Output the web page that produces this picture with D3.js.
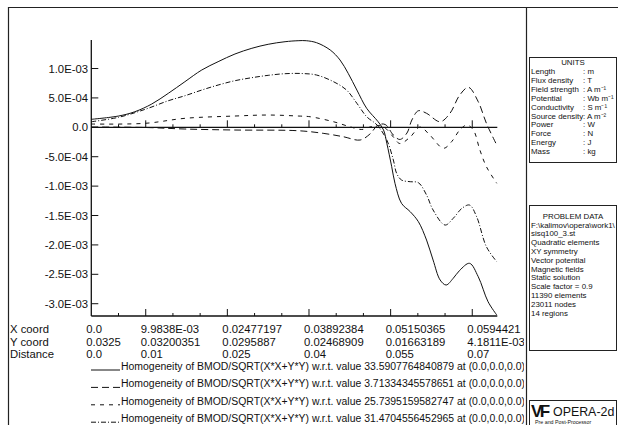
<!DOCTYPE html>
<html>
<head>
<meta charset="utf-8">
<script src="https://cdn.jsdelivr.net/npm/d3@7"></script>
<style>
  body { margin: 0; background: #fff; }
  svg text { font-family: "Liberation Sans", Arial, sans-serif; fill: #111; }
</style>
</head>
<body>
<div id="chart"></div>
<script>
// distance along the line (m) and homogeneity values
var distSolid = [0, 0.005, 0.008, 0.0111, 0.01415, 0.0172, 0.0203, 0.0233, 0.0264, 0.0295, 0.0325, 0.0356, 0.038, 0.0395, 0.0414, 0.0439, 0.0457, 0.0472, 0.0488, 0.0506, 0.0527, 0.0537, 0.0543, 0.0552, 0.0558, 0.057, 0.0586, 0.0601, 0.0616, 0.0628, 0.0641, 0.0652, 0.0665, 0.0677, 0.0695, 0.0711, 0.0729, 0.0745];
var valSolid = [1.36e-4, 1.92e-4, 2.65e-4, 3.96e-4, 5.78e-4, 7.76e-4, 9.75e-4, 1.116e-3, 1.247e-3, 1.344e-3, 1.412e-3, 1.456e-3, 1.473e-3, 1.473e-3, 1.439e-3, 1.315e-3, 1.145e-3, 9.18e-4, 6.34e-4, 3.23e-4, 9.5e-5, -4.6e-5, -2.72e-4, -6.7e-4, -9.52e-4, -1.293e-3, -1.435e-3, -1.605e-3, -1.917e-3, -2.257e-3, -2.597e-3, -2.682e-3, -2.568e-3, -2.432e-3, -2.313e-3, -2.541e-3, -2.966e-3, -3.192e-3];

var distLong = [0, 0.0099, 0.0172, 0.0264, 0.038, 0.0426, 0.0463, 0.0494, 0.0512, 0.0527, 0.054, 0.0555, 0.0567, 0.058, 0.0589, 0.0601, 0.0616, 0.0641, 0.0659, 0.0677, 0.0693, 0.0711, 0.0726, 0.0745];
var valLong = [5e-6, -3e-6, -2.9e-5, -4.6e-5, -5.8e-5, -1.02e-4, -1.6e-4, -2.16e-4, -1.14e-4, 3.9e-5, 4.8e-5, -1.31e-4, -2.07e-4, -9.7e-5, 1.24e-4, 2.82e-4, 2.38e-4, 9.5e-5, 2.38e-4, 5.49e-4, 6.8e-4, 4.35e-4, 6.8e-5, -3.01e-4];

var distShort = [0, 0.0099, 0.0172, 0.0264, 0.0325, 0.038, 0.0402, 0.0445, 0.0475, 0.0497, 0.0512, 0.0527, 0.054, 0.0555, 0.0567, 0.0586, 0.0604, 0.0622, 0.0647, 0.0662, 0.0677, 0.069, 0.0702, 0.0714, 0.0726, 0.0745];
var valShort = [5.6e-5, 6.8e-5, 1.53e-4, 1.92e-4, 2.09e-4, 1.92e-4, 1.8e-4, 9.5e-5, 1e-5, -3.7e-5, 5e-6, 3.1e-5, -1.2e-5, -1.65e-4, -2.76e-4, -1.65e-4, 5e-6, -1.31e-4, -3.57e-4, -2.45e-4, -4.6e-5, 3.9e-5, -4.6e-5, -3.86e-4, -6.7e-4, -9.52e-4];

var distDot = [0, 0.005, 0.0099, 0.01415, 0.0172, 0.0203, 0.0233, 0.0264, 0.0295, 0.0325, 0.0356, 0.0387, 0.0414, 0.0445, 0.0469, 0.0488, 0.0506, 0.0525, 0.0543, 0.0555, 0.0561, 0.057, 0.0586, 0.0601, 0.0616, 0.0628, 0.065, 0.0665, 0.0681, 0.0695, 0.0708, 0.0726, 0.0745];
var valDot = [9.5e-5, 1.7e-4, 3.06e-4, 4.52e-4, 5.37e-4, 6.34e-4, 7.19e-4, 7.93e-4, 8.44e-4, 8.84e-4, 9.12e-4, 9.15e-4, 8.89e-4, 7.76e-4, 6.34e-4, 4.08e-4, 1.8e-4, 3.9e-5, -2.16e-4, -5.56e-4, -7.82e-4, -8.96e-4, -9.25e-4, -9.42e-4, -1.151e-3, -1.406e-3, -1.662e-3, -1.548e-3, -1.378e-3, -1.322e-3, -1.52e-3, -2.031e-3, -2.286e-3];

var refValues = ["33.5907764840879", "3.71334345578651", "25.7395159582747", "31.4704556452965"];

var yTicks = [1e-3, 5e-4, 0, -5e-4, -1e-3, -1.5e-3, -2e-3, -2.5e-3, -3e-3];
var yTickLabels = ["1.0E-03", "5.0E-04", "0.0", "-5.0E-04", "-1.0E-03", "-1.5E-03", "-2.0E-03", "-2.5E-03", "-3.0E-03"];

var labelDist = [0, 0.01, 0.025, 0.04, 0.055, 0.07];
var xCoordLabels = ["0.0", "9.9838E-03", "0.02477197", "0.03892384", "0.05150365", "0.0594421"];
var yCoordLabels = ["0.0325", "0.03200351", "0.0295887", "0.02468909", "0.01663189", "4.1811E-03"];
var distLabels = ["0.0", "0.01", "0.025", "0.04", "0.055", "0.07"];

var unitNames = ["Length", "Flux density", "Field strength", "Potential", "Conductivity", "Source density", "Power", "Force", "Energy", "Mass"];
var unitValues = [": m", ": T", ": A m\u207B\u00B9", ": Wb m\u207B\u00B9", ": S m\u207B\u00B9", ": A m\u207B\u00B2", ": W", ": N", ": J", ": kg"];
var problemLines = ["F:\\kalimov\\opera\\work1\\", "sisq100_3.st", "Quadratic elements", "XY symmetry", "Vector potential", "Magnetic fields", "Static solution", "Scale factor = 0.9", "11390 elements", "23011 nodes", "14 regions"];

var width = 618, height = 425,
  svg = d3.select("#chart").append("svg")
    .attr("width", width)
    .attr("height", height),
  xScale = d3.scaleLinear().domain([0, 0.0746]).range([91.3, 497.3]),
  yScale = d3.scaleLinear().domain([-3.209e-3, 1.485e-3]).range([316, 40]);

svg.append("defs").append("clipPath").attr("id", "leftpanel")
  .append("rect").attr("x", 0).attr("y", 0).attr("width", 524).attr("height", height);

// outer frame
svg.append("path")
  .attr("d", "M8.5," + height + "V7.5H" + width + "M526.5,7.5V" + height)
  .attr("fill", "none").attr("stroke", "#222").attr("stroke-width", 1.2);

// axes
var tickDist = d3.range(0, 0.0746, 0.005);
function isMajor(d) {
  return labelDist.some(function (l) { return Math.abs(l - d) < 1e-6 && l > 0; });
}
[yScale(0), 316].forEach(function (yy) {
  svg.append("line")
    .attr("x1", xScale(0)).attr("x2", xScale(0.0746))
    .attr("y1", yy).attr("y2", yy)
    .attr("stroke", "#111").attr("stroke-width", 1.3);
  svg.selectAll(null).data(tickDist.slice(1)).enter().append("line")
    .attr("x1", function (d) { return xScale(d); })
    .attr("x2", function (d) { return xScale(d); })
    .attr("y1", yy)
    .attr("y2", function (d) { return yy - (isMajor(d) ? 7 : 3); })
    .attr("stroke", "#111").attr("stroke-width", 1);
});
svg.append("line")
  .attr("x1", xScale(0)).attr("x2", xScale(0))
  .attr("y1", 40).attr("y2", 316)
  .attr("stroke", "#111").attr("stroke-width", 1.3);
svg.selectAll(null).data(yTicks).enter().append("line")
  .attr("x1", xScale(0)).attr("x2", xScale(0) + 7)
  .attr("y1", function (d) { return yScale(d); })
  .attr("y2", function (d) { return yScale(d); })
  .attr("stroke", "#111").attr("stroke-width", 1);
svg.selectAll(null).data(yTicks).enter().append("text")
  .attr("x", 88).attr("y", function (d) { return yScale(d) + 4; })
  .attr("text-anchor", "end").style("font-size", "11.3px")
  .text(function (d, i) { return yTickLabels[i]; });

// curves
var series = [
  { d: distSolid, v: valSolid, dash: null },
  { d: distLong, v: valLong, dash: "7,4" },
  { d: distShort, v: valShort, dash: "4,5" },
  { d: distDot, v: valDot, dash: "5,2,1,2" }
];
var line = d3.line()
  .x(function (p) { return xScale(p[0]); })
  .y(function (p) { return yScale(p[1]); })
  .curve(d3.curveCatmullRom.alpha(0.5));
series.forEach(function (s) {
  svg.append("path")
    .datum(d3.zip(s.d, s.v))
    .attr("d", line)
    .attr("fill", "none")
    .attr("stroke", "#111")
    .attr("stroke-width", 1)
    .attr("stroke-dasharray", s.dash);
});

// coordinate table under the axis
var rows = [["X coord", xCoordLabels], ["Y coord", yCoordLabels], ["Distance", distLabels]];
var tbl = svg.append("g").attr("clip-path", "url(#leftpanel)").style("font-size", "11.3px");
rows.forEach(function (r, k) {
  var yy = 333 + k * 12.5;
  tbl.append("text").attr("x", 10).attr("y", yy).text(r[0]);
  tbl.selectAll(null).data(r[1]).enter().append("text")
    .attr("x", function (t, i) { return xScale(labelDist[i]) - 5; })
    .attr("y", yy)
    .text(function (t) { return t; });
});

// legend
var leg = svg.append("g").attr("clip-path", "url(#leftpanel)");
series.forEach(function (s, i) {
  var yy = 370 + i * 17.4;
  leg.append("line")
    .attr("x1", 91).attr("x2", 120).attr("y1", yy).attr("y2", yy)
    .attr("stroke", "#111").attr("stroke-width", 1)
    .attr("stroke-dasharray", s.dash);
  leg.append("text").attr("x", 121).attr("y", yy).style("font-size", "10.45px")
    .text("Homogeneity of BMOD/SQRT(X*X+Y*Y) w.r.t. value " + refValues[i] + " at (0.0,0.0,0.0)");
});

// side panels
function box(y0, y1) {
  svg.append("rect").attr("x", 529.5).attr("y", y0).attr("width", 87).attr("height", y1 - y0)
    .attr("fill", "none").attr("stroke", "#222").attr("stroke-width", 1);
}
box(57.5, 162.5);
var ug = svg.append("g").style("font-size", "7.9px");
ug.append("text").attr("x", 573).attr("y", 65).attr("text-anchor", "middle").text("UNITS");
unitNames.forEach(function (n, i) {
  ug.append("text").attr("x", 531).attr("y", 74 + i * 8.9).text(n);
  ug.append("text").attr("x", 583).attr("y", 74 + i * 8.9).text(unitValues[i]);
});

box(205.5, 350.5);
var pg = svg.append("g").style("font-size", "7.9px");
pg.append("text").attr("x", 573).attr("y", 219).attr("text-anchor", "middle").text("PROBLEM DATA");
problemLines.forEach(function (t, i) {
  pg.append("text").attr("x", 531).attr("y", 227.5 + i * 8.8).text(t);
});

// logo
box(400.5, 440);
svg.append("text").attr("x", 531).attr("y", 416.5).style("font-size", "17px")
  .style("font-weight", "bold").attr("letter-spacing", "-2.5").text("VF");
svg.append("text").attr("x", 553).attr("y", 416).style("font-size", "12.4px").text("OPERA-2d");
svg.append("text").attr("x", 535).attr("y", 424).style("font-size", "5.3px").text("Pre and Post-Processor");
</script>
</body>
</html>
